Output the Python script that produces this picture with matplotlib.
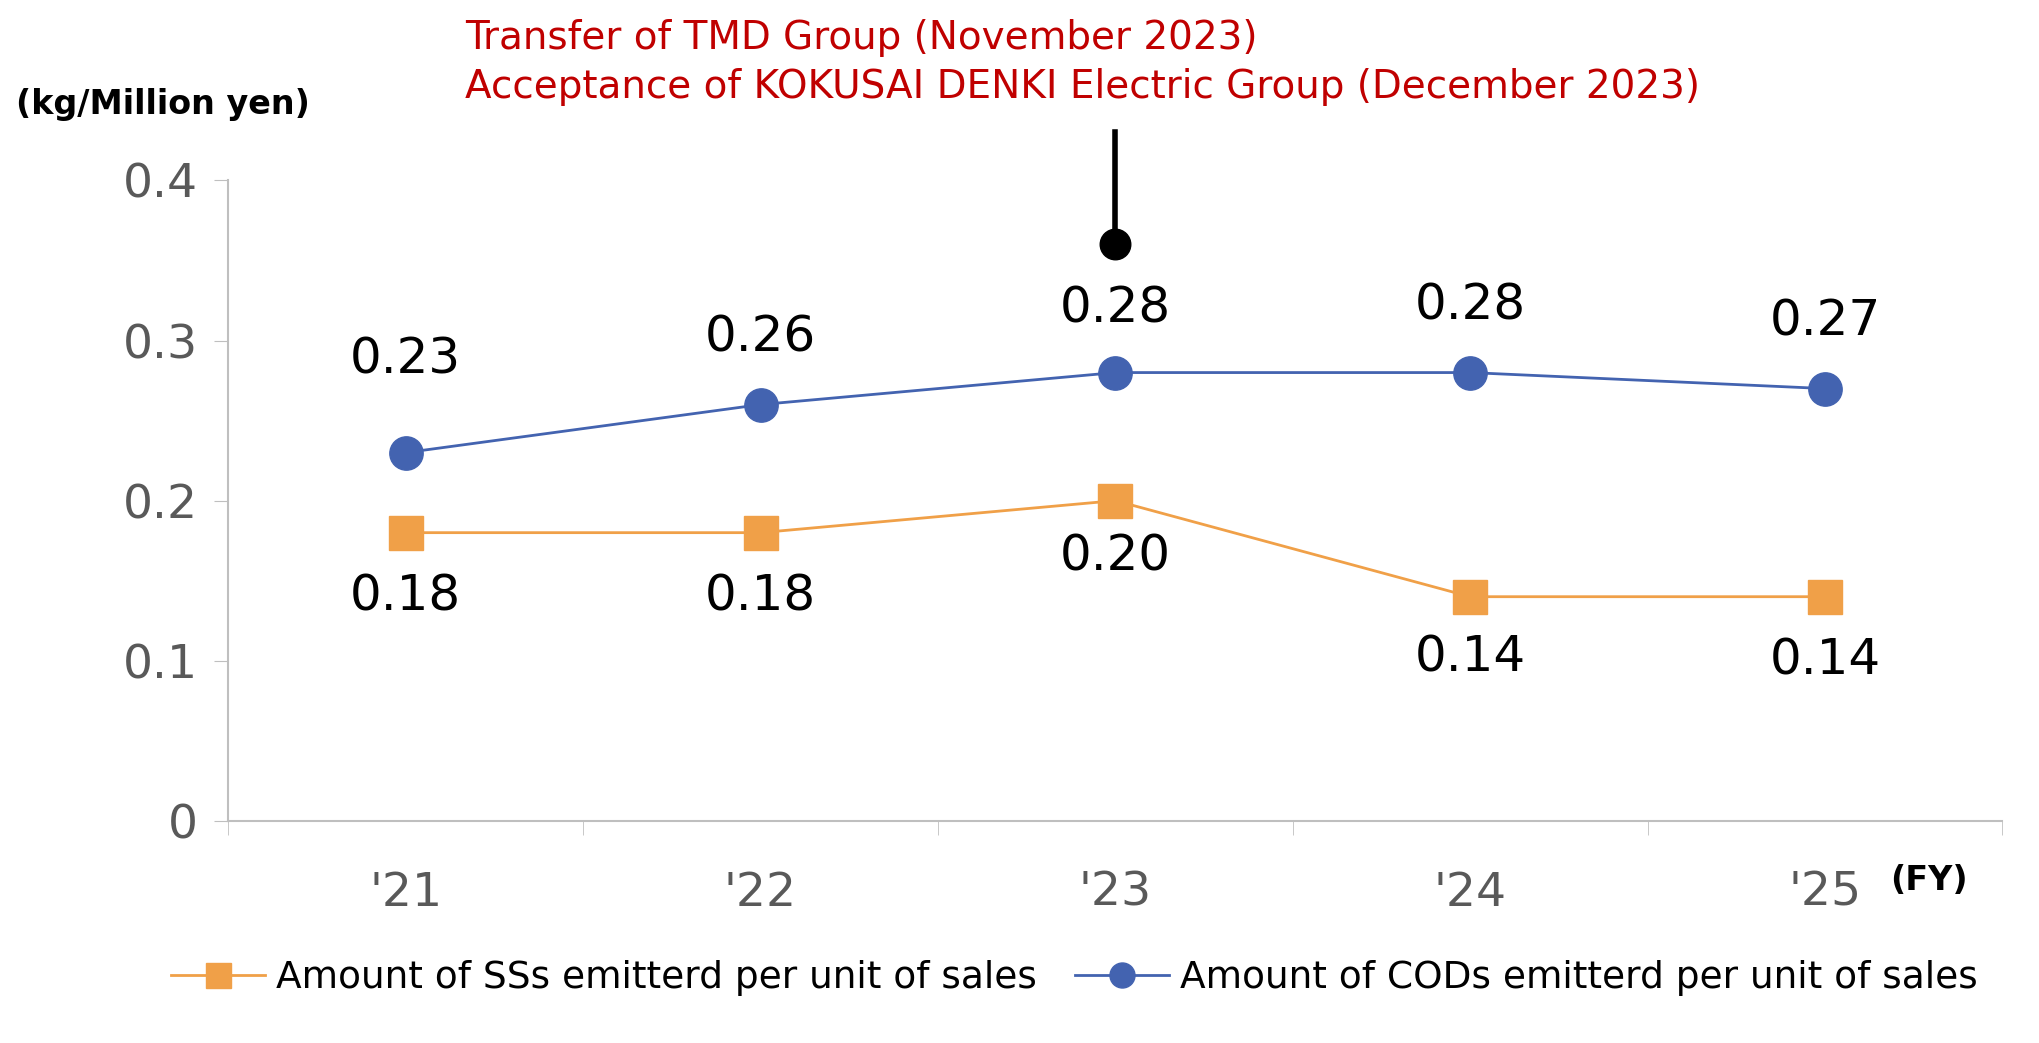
import matplotlib.pyplot as plt
from matplotlib.lines import Line2D

years = ["'21", "'22", "'23", "'24", "'25"]
ss = [0.18, 0.18, 0.20, 0.14, 0.14]
cod = [0.23, 0.26, 0.28, 0.28, 0.27]
ss_labels = ["0.18", "0.18", "0.20", "0.14", "0.14"]
cod_labels = ["0.23", "0.26", "0.28", "0.28", "0.27"]

orange = "#F0A048"
blue = "#4363B0"
grey = "#BFBFBF"

fig = plt.figure(figsize=(20.39, 10.43), dpi=100)
ax = fig.add_axes([0.112, 0.213, 0.870, 0.614])
x = range(len(years))
ax.plot(x, ss, color=orange, lw=2, marker="s", ms=24, zorder=3)
ax.plot(x, cod, color=blue, lw=2, marker="o", ms=24, zorder=3)

ss_off = [-0.04, -0.04, -0.035, -0.038, -0.040]
cod_off = [0.058, 0.042, 0.040, 0.042, 0.042]
for i in x:
    ax.text(i, ss[i] + ss_off[i], ss_labels[i], ha="center", va="center", fontsize=36)
    ax.text(i, cod[i] + cod_off[i], cod_labels[i], ha="center", va="center", fontsize=36)

ax.set_xlim(-0.5, 4.5)
ax.set_ylim(0, 0.4)
ax.set_yticks([0, 0.1, 0.2, 0.3, 0.4])
ax.set_yticklabels(["0", "0.1", "0.2", "0.3", "0.4"])
ax.set_xticks(list(x))
ax.set_xticklabels(years)
ax.set_xticks([-0.5, 0.5, 1.5, 2.5, 3.5, 4.5], minor=True)
ax.tick_params(axis="x", which="major", length=0, pad=36, labelsize=34, labelcolor="#595959")
ax.tick_params(axis="x", which="minor", length=10, color=grey, direction="out")
ax.tick_params(axis="y", length=10, color=grey, labelsize=34, labelcolor="#595959", pad=12)
for s in ["top", "right"]:
    ax.spines[s].set_visible(False)
for s in ["left", "bottom"]:
    ax.spines[s].set_color(grey)
    ax.spines[s].set_linewidth(1.5)

# event marker
ax.plot([2, 2], [0.36, 0.43], color="black", lw=4, clip_on=False, zorder=4)
ax.plot([2], [0.36], "o", color="black", ms=22, clip_on=False, zorder=4)
fig.text(0.228, 0.964, "Transfer of TMD Group (November 2023)", color="#C00000", fontsize=28, va="center")
fig.text(0.228, 0.917, "Acceptance of KOKUSAI DENKI Electric Group (December 2023)", color="#C00000", fontsize=28, va="center")

fig.text(0.008, 0.900, "(kg/Million yen)", fontsize=24, fontweight="bold", va="center")
fig.text(0.927, 0.156, "(FY)", fontsize=24, fontweight="bold", va="center")

handles = [
    Line2D([], [], color=orange, lw=2, marker="s", ms=18),
    Line2D([], [], color=blue, lw=2, marker="o", ms=18),
]
fig.legend(handles, ["Amount of SSs emitterd per unit of sales", "Amount of CODs emitterd per unit of sales"],
           loc="center", bbox_to_anchor=(0.527, 0.062), ncol=2, frameon=False, fontsize=27,
           handlelength=2.5, handletextpad=0.3, columnspacing=1.0)

fig.savefig("out.png", dpi=100)
